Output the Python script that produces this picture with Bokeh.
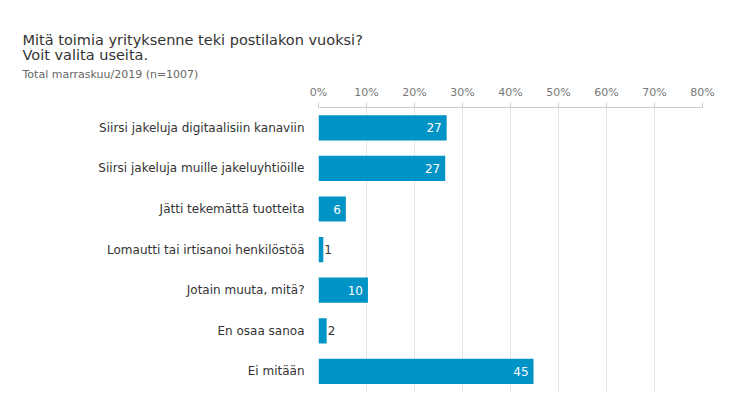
from bokeh.plotting import figure
from bokeh.models import Range1d, FixedTicker, LinearAxis, Title, ColumnDataSource, PrintfTickFormatter
from bokeh.embed import file_html
from bokeh.resources import INLINE
from bokeh.core.properties import value

categories = [
    "Siirsi jakeluja digitaalisiin kanaviin",
    "Siirsi jakeluja muille jakeluyhtiöille",
    "Jätti tekemättä tuotteita",
    "Lomautti tai irtisanoi henkilöstöä",
    "Jotain muuta, mitä?",
    "En osaa sanoa",
    "Ei mitään",
]
values = [26.7, 26.4, 5.7, 1.0, 10.3, 1.7, 44.8]
value_labels = ["27", "27", "6", "1", "10", "2", "45"]
x_ticks = [0, 10, 20, 30, 40, 50, 60, 70, 80]

title_text = "Mitä toimia yrityksenne teki postilakon vuoksi?\nVoit valita useita."
subtitle = "Total marraskuu/2019 (n=1007)"

FONT = "DejaVu Sans"
BAR = "#0093c6"

W, H = 750, 392
TOP = 107
LEFT = 318

n = len(categories)
ypos = list(range(n))

p = figure(width=W, height=H, output_backend="svg", toolbar_location=None,
           x_range=Range1d(0, 80), y_range=Range1d(-0.5 + (H - TOP) / 40.6, -0.5),
           x_axis_location=None, min_border_left=LEFT, min_border_right=48,
           min_border_top=TOP, min_border_bottom=0)
p.outline_line_color = None
p.background_fill_color = "white"
p.border_fill_color = "white"

xa = LinearAxis(ticker=FixedTicker(ticks=x_ticks), formatter=PrintfTickFormatter(format="%d%%"))
xa.axis_line_color = "#cccccc"
xa.major_tick_line_color = "#cccccc"
xa.major_tick_out = 5
xa.major_tick_in = 0
xa.minor_tick_line_color = None
xa.major_label_standoff = 4
xa.major_label_text_font = FONT
xa.major_label_text_font_size = "11px"
xa.major_label_text_color = "#777777"
p.add_layout(xa, "above")

p.add_layout(Title(text=subtitle, align="left", offset=22 - LEFT, standoff=3,
                   text_font=FONT, text_font_size="11px", text_font_style="normal",
                   text_color="#666666"), "above")
p.add_layout(Title(text=title_text, align="left", offset=22 - LEFT, standoff=3,
                   text_font=FONT, text_font_size="14.5px", text_font_style="normal",
                   text_color="#333333", text_line_height=0.95), "above")

p.xgrid.ticker = FixedTicker(ticks=x_ticks)
p.xgrid.grid_line_color = "#e4e4e4"
p.ygrid.grid_line_color = None

ya = p.yaxis[0]
ya.ticker = FixedTicker(ticks=ypos)
ya.major_label_overrides = {i: c for i, c in zip(ypos, categories)}
ya.axis_line_color = None
ya.major_tick_line_color = None
ya.minor_tick_line_color = None
ya.major_label_standoff = 8
ya.major_label_text_font = FONT
ya.major_label_text_font_size = "12px"
ya.major_label_text_color = "#333333"

src = ColumnDataSource(dict(y=ypos, v=values, lab=value_labels))
p.hbar(y="y", right="v", left=0, height=0.62, source=src, fill_color=BAR, line_color=None)

ins = [i for i, v in enumerate(values) if v >= 5]
outs = [i for i, v in enumerate(values) if v < 5]
src_in = ColumnDataSource(dict(y=[ypos[i] for i in ins], v=[values[i] for i in ins], lab=[value_labels[i] for i in ins]))
src_out = ColumnDataSource(dict(y=[ypos[i] for i in outs], v=[values[i] for i in outs], lab=[value_labels[i] for i in outs]))
p.text(x="v", y="y", text="lab", source=src_in, x_offset=-5, text_align="right", text_baseline="middle",
       text_color="white", text_font=value(FONT), text_font_size="12px")
p.text(x="v", y="y", text="lab", source=src_out, x_offset=1, text_align="left", text_baseline="middle",
       text_color="#333333", text_font=value(FONT), text_font_size="12px")

open("out.html", "w").write(file_html(p, INLINE))
